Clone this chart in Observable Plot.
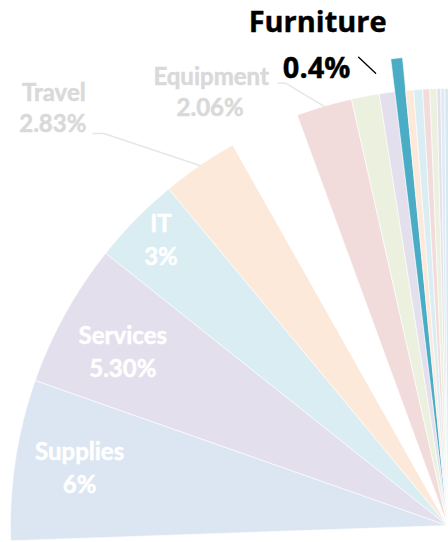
<!DOCTYPE html>
<html>
<head>
<meta charset="utf-8">
<script src="https://cdn.jsdelivr.net/npm/d3@7"></script>
<script src="https://cdn.jsdelivr.net/npm/@observablehq/plot@0.6"></script>
<style>
  html, body { margin: 0; padding: 0; background: #fff; overflow: hidden; }
  #chart svg { display: block; }
</style>
</head>
<body>
<div id="chart"></div>
<script>
// ---- Data ----
const categories  = ["Supplies", "Services", "IT", "Travel", "", "Equipment", "", "", "Furniture", "", "", "", "", "", "", ""];
const shares      = [5.94, 5.32, 3.29, 2.83, 2.59, 2.06, 1.03, 0.57, 0.40, 0.29, 0.33, 0.26, 0.26, 0.14, 0.15, 0.20];
const valueLabels = ["6%", "5.30%", "3%", "2.83%", "", "2.06%", "", "", "0.4%", "", "", "", "", "", "", ""];
const sliceColors = ["#dce6f2", "#e4dfec", "#daedf3", "#fde9d9", "#ffffff", "#f2dcdb", "#ebf1de", "#e4dfec",
                     "#4bacc6", "#fde9d9", "#daedf3", "#f2dcdb", "#ebf1de", "#e4dfec", "#daedf3", "#dce6f2"];
const highlight = "Furniture";
const insideNames = ["Supplies", "Services", "IT"];
const outsideNames = ["Travel", "Equipment"];

// ---- Layout ----
const W = 448, H = 542;
const R = 437;               // pie radius in px
const CX = 447, CY = 525;    // pie centre in px
const startDeg = -92;        // first slice starts here (clockwise from 12 o'clock)
const rad = d => d * Math.PI / 180;
const polar = (r, deg) => ({x: r * Math.sin(rad(deg)), y: r * Math.cos(rad(deg))});
const px = (p, ox, oy) => ({x: p.x + ox / R, y: p.y - oy / R}); // pixel offset in data units

let acc = startDeg;
const slices = shares.map((v, i) => {
  const a0 = acc, a1 = acc + v * 3.6;
  acc = a1;
  return {i, name: categories[i], label: valueLabels[i], color: sliceColors[i],
          a0, a1, mid: (a0 + a1) / 2, r: categories[i] === highlight ? 1.0755 : 1};
});

function wedge(s) {
  const pts = [{x: 0, y: 0}];
  const n = Math.max(2, Math.ceil((s.a1 - s.a0) / 0.2));
  for (let k = 0; k <= n; k++) pts.push(polar(s.r, s.a0 + (s.a1 - s.a0) * k / n));
  pts.push({x: 0, y: 0});
  return pts;
}

const byName = n => slices.find(s => s.name === n);

// inside labels (radius fraction and small angular nudge)
const insideK = {Supplies: 0.852, Services: 0.842, IT: 0.925};
const insideNudge = {Supplies: 0.2, Services: -0.9, IT: 0.4};
const inside = insideNames.map(n => { const s = byName(n); return {...polar(insideK[n], s.mid + insideNudge[n]), name: s.name, label: s.label}; });

// outside labels: offsets in px from the slice's outer mid point
const outsideCfg = {
  Travel:    {name: [-146, -72], value: [-147, -41], leader: [[0, 0], [-96, -32], [-107, -32]]},
  Equipment: {name: [-113, -29], value: [-114, 2],   leader: [[0, 0], [-38, -23], [-46, -23]]}
};
const outsideText = [], leaderPts = [];
outsideNames.forEach(n => {
  const s = byName(n), c = outsideCfg[n], a = polar(s.r, s.mid);
  outsideText.push({...px(a, ...c.name), t: s.name});
  outsideText.push({...px(a, ...c.value), t: s.label});
  c.leader.forEach(o => leaderPts.push({...px(a, ...o), key: n}));
});

const hs = byName(highlight);
const ha = polar(hs.r, hs.mid);
const hlText = [{...px(ha, -79, -36), t: hs.name}, {...px(ha, -80, 10), t: hs.label}];
const hlLeader = [px(ha, -38, -1), px(ha, -21, 15)];

const chart = Plot.plot({
  width: W, height: H,
  margin: 0,
  x: {domain: [-CX / R, (W - CX) / R], range: [0, W], axis: null},
  y: {domain: [-(H - CY) / R, CY / R], range: [H, 0], axis: null},
  style: {background: "#fff", overflow: "hidden", fontFamily: "Lato"},
  marks: [
    ...slices.map(s => Plot.line(wedge(s), {x: "x", y: "y", fill: s.color, stroke: "#fff", strokeWidth: 0.6, curve: "linear"})),
    Plot.line(leaderPts, {x: "x", y: "y", z: "key", stroke: "#e6e6e6", strokeWidth: 1.4}),
    Plot.text(inside, {x: "x", y: "y", text: "name", dy: -16, fill: "#fff", stroke: "#fff", strokeWidth: 0.5, fontSize: 24, fontWeight: "bold", fontFamily: "Lato"}),
    Plot.text(inside, {x: "x", y: "y", text: "label", dy: 17, fill: "#fff", stroke: "#fff", strokeWidth: 0.5, fontSize: 24, fontWeight: "bold", fontFamily: "Lato"}),
    Plot.text(outsideText, {x: "x", y: "y", text: "t", fill: "#d9d9d9", stroke: "#d9d9d9", strokeWidth: 0.5, fontSize: 24, fontWeight: "bold", fontFamily: "Lato"}),
    Plot.line(hlLeader, {x: "x", y: "y", stroke: "#000", strokeWidth: 1.3}),
    Plot.text(hlText, {x: "x", y: "y", text: "t", fill: "#000", stroke: "#000", strokeWidth: 0.4, fontSize: 29, fontWeight: "bold", fontFamily: "Open Sans"})
  ]
});
document.getElementById("chart").appendChild(chart);
</script>
</body>
</html>
